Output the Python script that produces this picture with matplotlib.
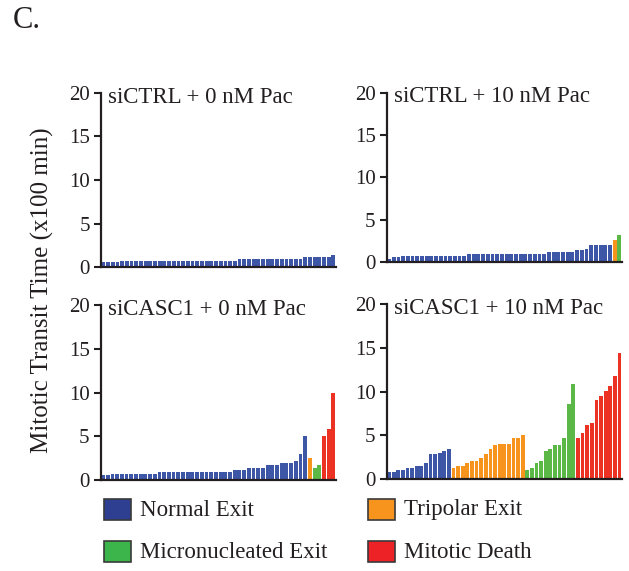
import matplotlib
matplotlib.use("Agg")
import matplotlib.pyplot as plt
from matplotlib.patches import Rectangle

plt.rcParams["font.family"] = ["Liberation Serif", "DejaVu Serif"]
INK = "#231f20"

# mitotic transit time (x100 min) per cell, sorted within each fate class
ctrl0_normal = [0.6, 0.6, 0.6, 0.6,
                0.75, 0.75, 0.75, 0.75, 0.75, 0.75, 0.75, 0.75, 0.75, 0.75,
                0.75, 0.75, 0.75, 0.75, 0.75, 0.75, 0.75, 0.75, 0.75, 0.75,
                0.75, 0.75, 0.75, 0.75, 0.75,
                1.0, 1.0, 1.0, 1.0, 1.0, 1.0, 1.0, 1.0, 1.0, 1.0, 1.0, 1.0, 1.0, 1.0,
                1.2, 1.2, 1.2, 1.2, 1.2, 1.2, 1.4]
ctrl0_tripolar = []
ctrl0_micro = []
ctrl0_death = []

ctrl10_normal = [0.3, 0.55, 0.55,
                 0.67, 0.67, 0.67, 0.67, 0.67, 0.67, 0.67, 0.67, 0.67, 0.67,
                 0.67, 0.67, 0.67, 0.67,
                 0.95, 0.95, 0.95, 0.95, 0.95, 0.95, 0.95, 0.95, 0.95, 0.95,
                 0.95, 0.95, 0.95, 0.95, 0.95, 0.95, 0.95,
                 1.15, 1.15, 1.15, 1.15, 1.15, 1.15, 1.4, 1.4, 1.55,
                 2.0, 2.0, 2.0, 2.0, 2.0]
ctrl10_tripolar = [2.55]
ctrl10_micro = [3.15]
ctrl10_death = []

casc0_normal = [0.6, 0.6,
                0.7, 0.7, 0.7, 0.7, 0.7, 0.7, 0.7, 0.7, 0.7, 0.7,
                0.92, 0.92, 0.92, 0.92, 0.92, 0.92, 0.92, 0.92, 0.92, 0.92,
                0.92, 0.92, 0.92, 0.92, 0.92, 0.92,
                1.15, 1.15, 1.15, 1.4, 1.4, 1.4, 1.4, 1.75, 1.75, 1.75,
                2.0, 2.0, 2.0, 2.2, 3.0, 5.0]
casc0_tripolar = [2.55]
casc0_micro = [1.4, 1.75]
casc0_death = [5.0, 5.8, 10.0]

casc10_normal = [0.84, 0.84, 1.06, 1.06, 1.3, 1.3, 1.52, 1.52, 1.9, 2.9, 2.9,
                 3.0, 3.2, 3.45]
casc10_tripolar = [1.3, 1.5, 1.5, 1.85, 2.1, 2.1, 2.4, 2.9, 3.45, 3.9, 4.0,
                   4.0, 4.0, 4.7, 4.7, 5.05]
casc10_micro = [1.05, 1.3, 1.85, 2.1, 3.2, 3.45, 3.9, 3.9, 4.7, 8.6, 10.9]
casc10_death = [4.7, 5.3, 6.2, 6.4, 9.1, 9.5, 10.1, 10.65, 11.8, 14.4]

fates = ["Normal Exit", "Tripolar Exit", "Micronucleated Exit", "Mitotic Death"]
bar_colors = ["#3d56a6", "#f7941d", "#5bb746", "#ec3323"]
legend_colors = ["#2e3f92", "#f7941d", "#3cb54a", "#ec2227"]
titles = ["siCTRL + 0 nM Pac", "siCTRL + 10 nM Pac",
          "siCASC1 + 0 nM Pac", "siCASC1 + 10 nM Pac"]
panels = [
    [ctrl0_normal, ctrl0_tripolar, ctrl0_micro, ctrl0_death],
    [ctrl10_normal, ctrl10_tripolar, ctrl10_micro, ctrl10_death],
    [casc0_normal, casc0_tripolar, casc0_micro, casc0_death],
    [casc10_normal, casc10_tripolar, casc10_micro, casc10_death],
]
yticks = [0, 5, 10, 15, 20]

W, H = 629, 571
fig = plt.figure(figsize=(W / 100, H / 100), dpi=100)


def px_axes(left, right, top, bottom):
    return fig.add_axes([left / W, 1 - bottom / H, (right - left) / W, (bottom - top) / H])


# pixel boxes (left, right, top, bottom)
boxes = [(101, 336, 92.7, 267.3), (386.7, 622, 92.7, 262),
         (100.7, 336, 305, 480), (386.7, 622, 304, 479.3)]

for box, groups, title in zip(boxes, panels, titles):
    ax = px_axes(*box)
    x0 = 0
    for vals, col in zip(groups, bar_colors):
        if vals:
            xs = range(x0, x0 + len(vals))
            ax.bar(xs, vals, width=0.82, color=col, linewidth=0)
            x0 += len(vals)
    ax.set_xlim(-0.5, x0 - 0.45)
    ax.set_ylim(0, 20)
    ax.set_yticks(yticks)
    ax.set_xticks([])
    for s in ("top", "right"):
        ax.spines[s].set_visible(False)
    for s in ("left", "bottom"):
        ax.spines[s].set_color(INK)
        ax.spines[s].set_linewidth(1.6)
    ax.tick_params(axis="y", direction="out", length=5, width=1.5, color=INK,
                   labelsize=15, labelcolor=INK, pad=3)
    ax.text(0.03, 0.975, title, transform=ax.transAxes, fontsize=16.5,
            color=INK, va="center", ha="left")

fig.text(13 / W, 1 - 20 / H, "C.", fontsize=22, color=INK, va="center", ha="left")
fig.text(42 / W, 1 - 290 / H, "Mitotic Transit Time (x100 min)", fontsize=18,
         color=INK, rotation=90, va="center", ha="center")

# legend: two columns, two rows
leg_pos = [(104, 499), (368, 499), (104, 541), (368, 541)]
for (lx, ly), lab, col in zip(leg_pos, fates, legend_colors):
    fig.add_artist(Rectangle((lx / W, 1 - (ly + 21) / H), 27 / W, 21 / H,
                             transform=fig.transFigure, facecolor=col,
                             edgecolor="#3a3a3a", linewidth=1.2))
    fig.text((lx + 36) / W, 1 - (ly + 11) / H, lab, fontsize=16.5, color=INK,
             va="center", ha="left")

fig.savefig("out.png", dpi=100)
